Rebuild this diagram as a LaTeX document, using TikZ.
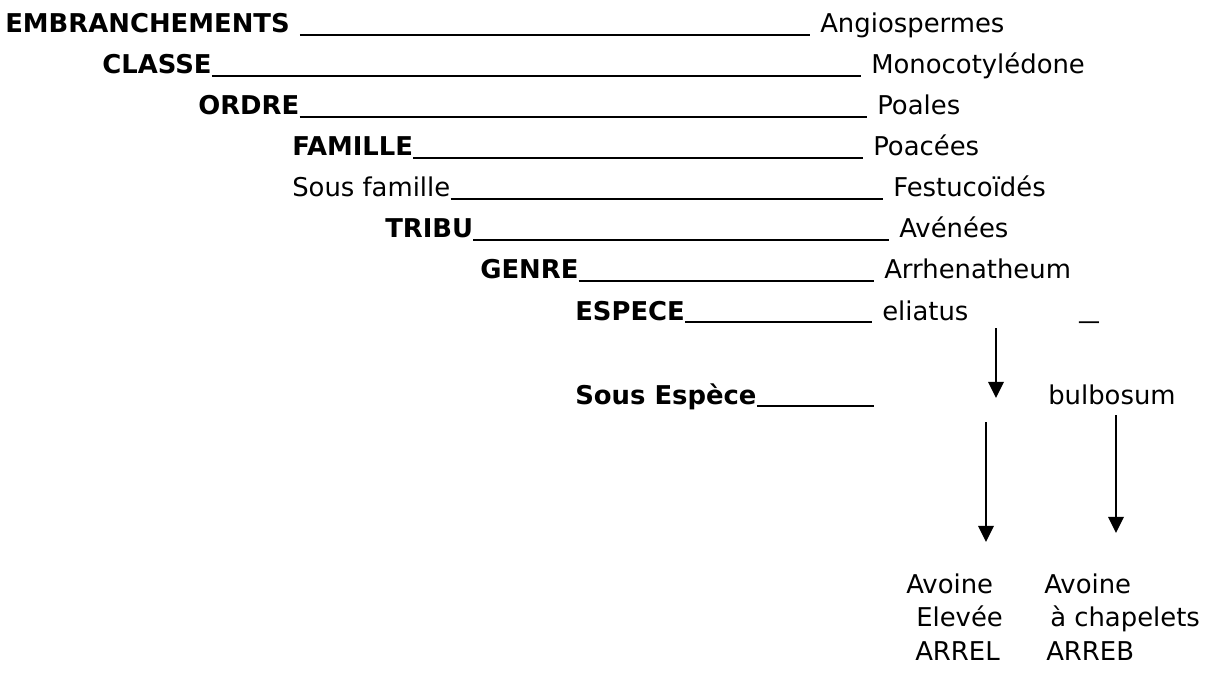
\documentclass[tikz,border=0pt]{standalone}
\usepackage{fontspec}
\setmainfont{DejaVu Sans}
\usetikzlibrary{arrows.meta}

\begin{document}
\begin{tikzpicture}[x=0.025cm,y=-0.025cm,>={Triangle[width=11pt,length=11.5pt]}]
\tikzset{RankStyle/.style = {anchor=base west,inner sep=0pt,
                             font=\fontsize{18.4}{22}\selectfont\bfseries},
         TaxonStyle/.style = {anchor=base west,inner sep=0pt,
                              font=\fontsize{18.4}{22}\selectfont},
         RuleStyle/.style = {line width=1.1pt,shorten >=7pt},
         ArrowStyle/.style = {->,line width=1.4pt}}
\useasboundingbox (0,0) rectangle (1211,676);
\node[RankStyle] (embr) at (5,33) {EMBRANCHEMENTS}; \node[TaxonStyle] (angio) at (820,33) {Angiospermes};
\node[RankStyle] (classe) at (102,74) {CLASSE}; \node[TaxonStyle] (mono) at (871,74) {Monocotylédone};
\node[RankStyle] (ordre) at (198,115) {ORDRE}; \node[TaxonStyle] (poales) at (877,115) {Poales};
\node[RankStyle] (famille) at (292,156) {FAMILLE}; \node[TaxonStyle] (poacees) at (873,156) {Poacées};
\node[TaxonStyle] (sousfam) at (292,197) {Sous famille}; \node[TaxonStyle] (festu) at (893,197) {Festucoïdés};
\node[RankStyle] (tribu) at (385,238) {TRIBU}; \node[TaxonStyle] (avenees) at (899,238) {Avénées};
\node[RankStyle] (genre) at (480,279) {GENRE}; \node[TaxonStyle] (arrhe) at (884,279) {Arrhenatheum};
\node[RankStyle] (espece) at (575,320) {ESPECE}; \node[TaxonStyle] (eliatus) at (882,320) {eliatus};
\node[TaxonStyle] (blank) at (1079,317) {\scalebox{1.5}[1]{\_}};
\node[RankStyle] (sousesp) at (575,404) {Sous Espèce}; \node[TaxonStyle] (bulbo) at (1048,404) {bulbosum};
\coordinate (sousend) at (884,404);
\draw[RuleStyle,shorten <=7pt] ([yshift=-1.5pt]embr.base east) -- ([yshift=-1.5pt]angio.base west);
\draw[RuleStyle] ([yshift=-1.5pt]classe.base east) -- ([yshift=-1.5pt]mono.base west);
\draw[RuleStyle] ([yshift=-1.5pt]ordre.base east) -- ([yshift=-1.5pt]poales.base west);
\draw[RuleStyle] ([yshift=-1.5pt]famille.base east) -- ([yshift=-1.5pt]poacees.base west);
\draw[RuleStyle] ([yshift=-1.5pt]sousfam.base east) -- ([yshift=-1.5pt]festu.base west);
\draw[RuleStyle] ([yshift=-1.5pt]tribu.base east) -- ([yshift=-1.5pt]avenees.base west);
\draw[RuleStyle] ([yshift=-1.5pt]genre.base east) -- ([yshift=-1.5pt]arrhe.base west);
\draw[RuleStyle] ([yshift=-1.5pt]espece.base east) -- ([yshift=-1.5pt]eliatus.base west);
\draw[RuleStyle] ([yshift=-1.5pt]sousesp.base east) -- ([yshift=-1.5pt]sousend);
\node[TaxonStyle] (avoine1) at (906,593) {Avoine}; \node[TaxonStyle] (avoine2) at (1044,593) {Avoine};
\node[TaxonStyle] (elevee) at (916,626) {Elevée}; \node[TaxonStyle] (chapel) at (1050,626) {à chapelets};
\node[TaxonStyle] (arrel) at (915,660) {ARREL}; \node[TaxonStyle] (arreb) at (1046,660) {ARREB};
\coordinate (s1) at (996,328); \coordinate (e1) at (996,398);
\coordinate (s2) at (986,422); \coordinate (e2) at (986,542);
\coordinate (s3) at (1116,415); \coordinate (e3) at (1116,533);
\draw[ArrowStyle] (s1) -- (e1);
\draw[ArrowStyle] (s2) -- (e2);
\draw[ArrowStyle] (s3) -- (e3);
\end{tikzpicture}
\end{document}
